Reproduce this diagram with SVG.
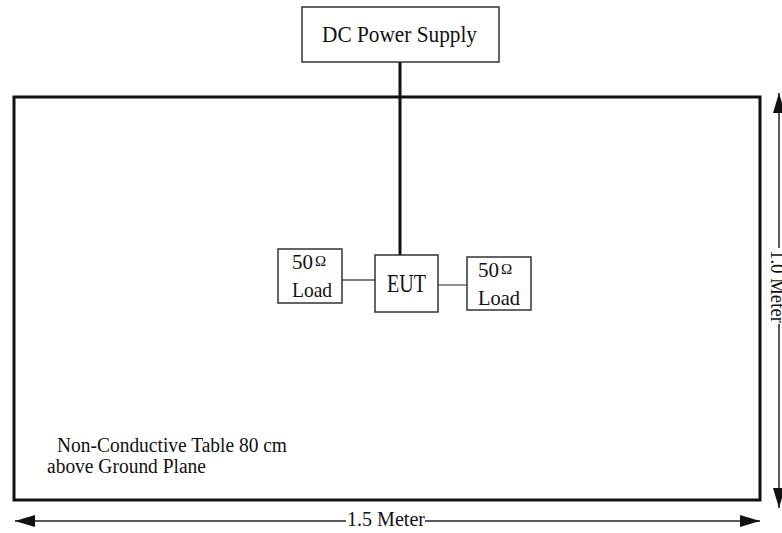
<svg xmlns="http://www.w3.org/2000/svg" width="782" height="533" viewBox="0 0 782 533">
<style>
text{font-family:"Liberation Serif","Times New Roman",serif;fill:#111}
.box{fill:#fff;stroke:#333;stroke-width:1.5}
.thin{stroke:#555;stroke-width:1.3;fill:none}
.dim{stroke:#222;stroke-width:1.5;fill:none}
.om{font-size:15px}
</style>
<defs>
<marker id="ah2" viewBox="0 0 20 12" refX="20" refY="6" markerWidth="20" markerHeight="12" markerUnits="userSpaceOnUse" orient="auto-start-reverse"><path d="M0,0 L20,6 L0,12 z" fill="#111"/></marker>
</defs>
<g id="table"><rect x="14" y="97" width="746" height="403" fill="none" stroke="#111" stroke-width="3"/>
<text x="57" y="452" font-size="20" textLength="230" lengthAdjust="spacingAndGlyphs">Non-Conductive Table 80 cm</text>
<text x="47" y="473" font-size="20" textLength="159" lengthAdjust="spacingAndGlyphs">above Ground Plane</text></g>
<g id="connectors">
<line x1="400" y1="62" x2="400" y2="255" stroke="#111" stroke-width="3"/>
<line class="thin" x1="342" y1="280" x2="375" y2="280"/>
<line class="thin" x1="438" y1="285" x2="467" y2="285"/>
</g>
<g id="dc"><rect class="box" x="302" y="7" width="197" height="55"/><text x="322" y="42" font-size="24" textLength="155" lengthAdjust="spacingAndGlyphs">DC Power Supply</text></g>
<g id="eut"><rect class="box" x="375" y="255" width="63" height="57"/><text x="387" y="292" font-size="25" textLength="39" lengthAdjust="spacingAndGlyphs">EUT</text></g>
<g id="load1"><rect class="box" x="278" y="249" width="64" height="54"/><text x="292" y="269" font-size="21">50<tspan class="om" dx="2" dy="-3">Ω</tspan></text><text x="292" y="297" font-size="22" textLength="40" lengthAdjust="spacingAndGlyphs">Load</text></g>
<g id="load2"><rect class="box" x="467" y="257" width="64" height="53"/><text x="478" y="277" font-size="21">50<tspan class="om" dx="2" dy="-3">Ω</tspan></text><text x="478" y="305" font-size="22" textLength="42" lengthAdjust="spacingAndGlyphs">Load</text></g>
<g id="dims">
<line class="dim" x1="346" y1="521" x2="15" y2="521" marker-end="url(#ah2)"/>
<line class="dim" x1="425" y1="521" x2="760" y2="521" marker-end="url(#ah2)"/>
<text x="347" y="526" font-size="20" textLength="78" lengthAdjust="spacingAndGlyphs">1.5 Meter</text>
<line class="dim" x1="779" y1="248" x2="779" y2="93" marker-end="url(#ah2)"/>
<line class="dim" x1="779" y1="324" x2="779" y2="508" marker-end="url(#ah2)"/>
<text transform="translate(771,250) rotate(90)" font-size="20" textLength="73" lengthAdjust="spacingAndGlyphs">1.0 Meter</text>
</g>
</svg>
